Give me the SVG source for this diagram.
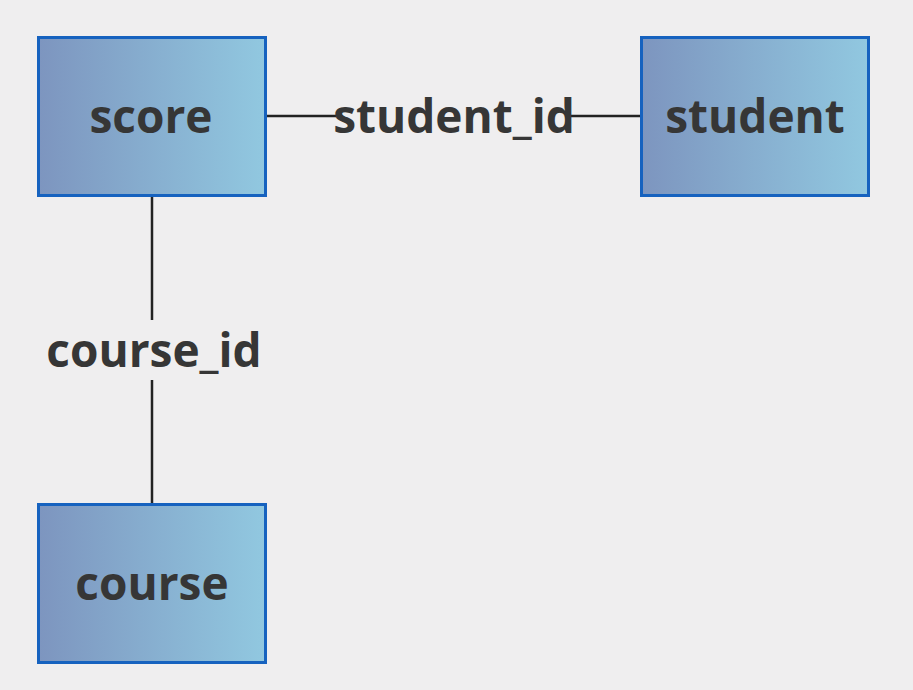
<svg xmlns="http://www.w3.org/2000/svg" width="913" height="690" viewBox="0 0 913 690">
<defs>
<linearGradient id="g" x1="0" y1="0" x2="1" y2="0">
<stop offset="0" stop-color="#7d95bf"/>
<stop offset="1" stop-color="#91c8e0"/>
</linearGradient>
<style>
.box{fill:url(#g);stroke:#1662bf;stroke-width:3}
.t{font-family:"Open Sans","Noto Sans",sans-serif;font-weight:bold;font-size:46px;fill:#363636;text-anchor:middle}
.c{stroke:#222;stroke-width:2.5;fill:none}
</style>
</defs>
<rect width="913" height="690" fill="#efeeef"/>
<g id="connectors">
<line class="c" x1="266" y1="116" x2="336" y2="116"/>
<line class="c" x1="571" y1="116" x2="641" y2="116"/>
<line class="c" x1="152" y1="196" x2="152" y2="320"/>
<line class="c" x1="152" y1="380" x2="152" y2="504"/>
<text class="t" x="454" y="133">student_id</text>
<text class="t" x="154" y="367">course_id</text>
</g>
<g id="score"><rect class="box" x="38.5" y="37.5" width="227" height="158"/><text class="t" x="151" y="133">score</text></g>
<g id="student"><rect class="box" x="641.5" y="37.5" width="227" height="158"/><text class="t" x="755" y="133">student</text></g>
<g id="course"><rect class="box" x="38.5" y="504.5" width="227" height="158"/><text class="t" x="152" y="600">course</text></g>
</svg>
